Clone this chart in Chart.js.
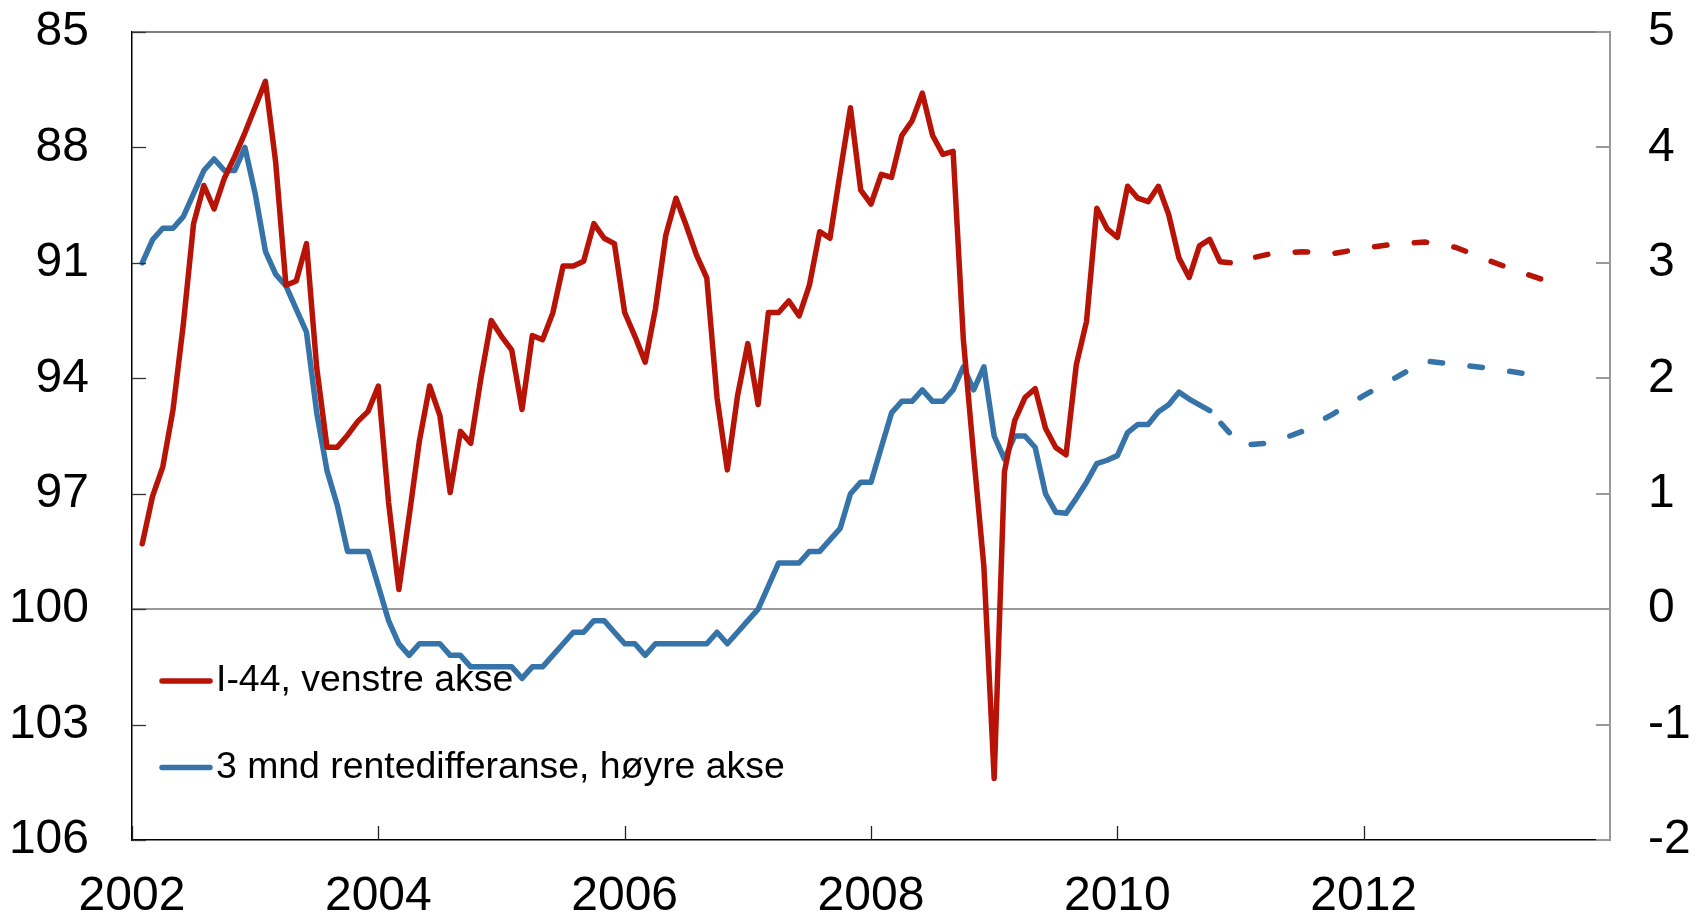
<!DOCTYPE html>
<html lang="no">
<head>
<meta charset="UTF-8">
<title>I-44 og 3 mnd rentedifferanse</title>
<script src="https://cdn.jsdelivr.net/npm/chart.js"></script>
<style>
  html, body { margin: 0; padding: 0; background: #fff; }
  #wrap { width: 1695px; height: 918px; }
</style>
</head>
<body>
<div id="wrap"><canvas id="chart" width="1695" height="918"></canvas></div>
<script>
// monthly history, first value = Jan 2002
const firstMonth = '2002-01';

// I-44 (left axis, inverted)
const i44 = [
  98.3, 97.07, 96.3, 94.81, 92.6, 89.98, 88.99, 89.6, 88.8, 88.24, 87.62, 86.95,
  86.28, 88.39, 91.58, 91.47, 90.5, 93.73, 95.79, 95.79, 95.48, 95.12, 94.86, 94.2,
  97.23, 99.49, 97.59, 95.63, 94.2, 94.97, 96.97, 95.38, 95.69, 93.99, 92.5, 92.91,
  93.27, 94.81, 92.89, 93.0, 92.3, 91.08, 91.08, 90.96, 89.98, 90.36, 90.5, 92.29,
  92.91, 93.58, 92.19, 90.29, 89.32, 90.03, 90.8, 91.39, 94.5, 96.38, 94.45, 93.1,
  94.68, 92.29, 92.29, 91.99, 92.38, 91.58, 90.19, 90.36, 88.65, 86.97, 89.11, 89.47,
  88.7, 88.78, 87.69, 87.31, 86.59, 87.69, 88.18, 88.1, 93.0, 96.0, 98.9, 104.4,
  96.43, 95.1, 94.5, 94.27, 95.3, 95.8, 95.99, 93.65, 92.52, 89.58, 90.11, 90.34,
  89.01, 89.32, 89.41, 89.01, 89.74, 90.87, 91.38, 90.56, 90.39, 90.97, 91.0
];

// 3 mnd rentedifferanse (right axis)
const rateDiff = [
  3.0, 3.2, 3.3, 3.3, 3.4, 3.6, 3.8, 3.9, 3.8, 3.8, 4.0, 3.6,
  3.1, 2.9, 2.8, 2.6, 2.4, 1.7, 1.2, 0.9, 0.5, 0.5, 0.5, 0.2,
  -0.1, -0.3, -0.4, -0.3, -0.3, -0.3, -0.4, -0.4, -0.5, -0.5, -0.5, -0.5,
  -0.5, -0.6, -0.5, -0.5, -0.4, -0.3, -0.2, -0.2, -0.1, -0.1, -0.2, -0.3,
  -0.3, -0.4, -0.3, -0.3, -0.3, -0.3, -0.3, -0.3, -0.2, -0.3, -0.2, -0.1,
  0.0, 0.2, 0.4, 0.4, 0.4, 0.5, 0.5, 0.6, 0.7, 1.0, 1.1, 1.1,
  1.4, 1.7, 1.8, 1.8, 1.9, 1.8, 1.8, 1.9, 2.1, 1.9, 2.1, 1.5,
  1.3, 1.5, 1.5, 1.4, 1.0, 0.84, 0.83, 0.96, 1.1, 1.26, 1.29, 1.33,
  1.53, 1.6, 1.6, 1.71, 1.77, 1.88, 1.82, 1.77, 1.72
];

// forecasts (dashed)
const i44FcMonths = ['2010-11', '2011-03', '2011-06', '2011-09', '2011-12', '2012-03',
                     '2012-06', '2012-09', '2012-12', '2013-03', '2013-06'];
const i44Fc = [91.0, 90.76, 90.71, 90.76, 90.62, 90.51, 90.46, 90.6, 90.92, 91.22, 91.48];

const rateDiffFcMonths = ['2010-09', '2010-12', '2011-03', '2011-06', '2011-09', '2011-12',
                          '2012-03', '2012-06', '2012-09', '2012-12', '2013-03', '2013-06'];
const rateDiffFc = [1.72, 1.42, 1.44, 1.54, 1.69, 1.85, 2.0, 2.15, 2.12, 2.09, 2.05, 2.0];

const yearTicks = [2002, 2004, 2006, 2008, 2010, 2012];
const leftTicks = [85, 88, 91, 94, 97, 100, 103, 106];
const rightTicks = [-2, -1, 0, 1, 2, 3, 4, 5];

const legendLabels = ['I-44, venstre akse', '3 mnd rentedifferanse, høyre akse'];

const RED = '#B81307';
const BLUE = '#3673A9';
const FONT = '"Liberation Sans", Arial, sans-serif';
const TICK_SIZE = 48;

// month position on x axis: Jan 2002 = 1
function monthX(s) {
  const [y, m] = s.split('-').map(Number);
  return (y - 2002) * 12 + m;
}
const start = monthX(firstMonth);
const toPoints = (vals) => vals.map((v, i) => ({ x: start + i, y: v }));
const toPointsAt = (months, vals) => vals.map((v, i) => ({ x: monthX(months[i]), y: v }));

const lineStyle = {
  pointRadius: 0,
  borderWidth: 5.5,
  tension: 0,
  borderCapStyle: 'round',
  borderJoinStyle: 'round',
  fill: false
};

// inward tick marks, top frame line and legend inside the plot
const framePlugin = {
  id: 'frame',
  afterDraw(chart) {
    const { ctx, chartArea: a, scales } = chart;
    ctx.save();
    ctx.lineCap = 'butt';

    ctx.strokeStyle = '#555';
    ctx.lineWidth = 1.5;
    ctx.beginPath();
    ctx.moveTo(a.left, a.top);
    ctx.lineTo(a.right, a.top);
    ctx.stroke();

    ctx.strokeStyle = '#333';
    ctx.lineWidth = 1.3;
    leftTicks.forEach(t => {
      const py = Math.round(scales.y.getPixelForValue(t)) + 0.5;
      ctx.beginPath();
      ctx.moveTo(a.left, py);
      ctx.lineTo(a.left + 14, py);
      ctx.stroke();
    });

    ctx.strokeStyle = '#999';
    ctx.lineWidth = 2;
    rightTicks.forEach(t => {
      const py = Math.round(scales.y1.getPixelForValue(t));
      ctx.beginPath();
      ctx.moveTo(a.right - 14, py);
      ctx.lineTo(a.right, py);
      ctx.stroke();
    });

    ctx.strokeStyle = '#222';
    ctx.lineWidth = 1.3;
    yearTicks.forEach(yr => {
      const px = Math.round(scales.x.getPixelForValue((yr - 2002) * 12)) + 0.5;
      ctx.beginPath();
      ctx.moveTo(px, a.bottom);
      ctx.lineTo(px, a.bottom - 14);
      ctx.stroke();
    });

    // legend
    const rows = [a.top + 649, a.top + 735.5];
    const colors = [RED, BLUE];
    ctx.font = '37.4px ' + FONT;
    ctx.textBaseline = 'middle';
    ctx.textAlign = 'left';
    rows.forEach((ly, i) => {
      ctx.strokeStyle = colors[i];
      ctx.lineWidth = 5.5;
      ctx.lineCap = 'round';
      ctx.beginPath();
      ctx.moveTo(a.left + 30, ly);
      ctx.lineTo(a.left + 78, ly);
      ctx.stroke();
      ctx.fillStyle = '#000';
      ctx.fillText(legendLabels[i], a.left + 84, ly);
    });
    ctx.restore();
  }
};

new Chart(document.getElementById('chart').getContext('2d'), {
  type: 'line',
  data: {
    datasets: [
      Object.assign({ label: legendLabels[0], data: toPoints(i44), borderColor: RED, yAxisID: 'y' }, lineStyle),
      Object.assign({ label: 'I-44 prognose', data: toPointsAt(i44FcMonths, i44Fc), borderColor: RED, yAxisID: 'y',
                      borderDash: [12.5, 27.5], borderDashOffset: 14 }, lineStyle),
      Object.assign({ label: legendLabels[1], data: toPoints(rateDiff), borderColor: BLUE, yAxisID: 'y1' }, lineStyle),
      Object.assign({ label: 'Rentedifferanse prognose', data: toPointsAt(rateDiffFcMonths, rateDiffFc), borderColor: BLUE, yAxisID: 'y1',
                      borderDash: [12.5, 27.5], borderDashOffset: 23 }, lineStyle)
    ]
  },
  options: {
    responsive: false,
    animation: false,
    events: [],
    layout: { padding: { top: 32, left: 0, right: 0, bottom: 0 } },
    plugins: { legend: { display: false }, tooltip: { enabled: false } },
    scales: {
      x: {
        type: 'linear',
        min: 0,
        max: 144,
        afterBuildTicks: s => { s.ticks = yearTicks.map(yr => ({ value: (yr - 2002) * 12 })); },
        afterFit: s => { s.height = 78; },
        ticks: {
          callback: v => String(2002 + v / 12),
          font: { family: FONT, size: TICK_SIZE },
          color: '#000',
          padding: 28,
          maxRotation: 0,
          autoSkip: false
        },
        grid: { drawOnChartArea: false, drawTicks: false },
        border: { color: '#000', width: 1.5 }
      },
      y: {
        position: 'left',
        reverse: true,
        min: 85,
        max: 106,
        afterBuildTicks: s => { s.ticks = leftTicks.map(v => ({ value: v })); },
        afterFit: s => { s.width = 132; },
        ticks: {
          font: { family: FONT, size: TICK_SIZE },
          color: '#000',
          padding: 0,
          autoSkip: false
        },
        grid: {
          drawTicks: true,
          tickLength: 43,
          tickColor: 'rgba(0,0,0,0)',
          color: c => (c.tick && c.tick.value === 100 ? '#999' : 'rgba(0,0,0,0)'),
          lineWidth: 2
        },
        border: { color: '#000', width: 1.5 }
      },
      y1: {
        position: 'right',
        min: -2,
        max: 5,
        afterBuildTicks: s => { s.ticks = rightTicks.map(v => ({ value: v })); },
        afterFit: s => { s.width = 85; },
        ticks: {
          font: { family: FONT, size: TICK_SIZE },
          color: '#000',
          padding: 0,
          autoSkip: false
        },
        grid: {
          drawOnChartArea: false,
          drawTicks: true,
          tickLength: 38,
          tickColor: 'rgba(0,0,0,0)'
        },
        border: { color: '#999', width: 2 }
      }
    }
  },
  plugins: [framePlugin]
});
</script>
</body>
</html>
